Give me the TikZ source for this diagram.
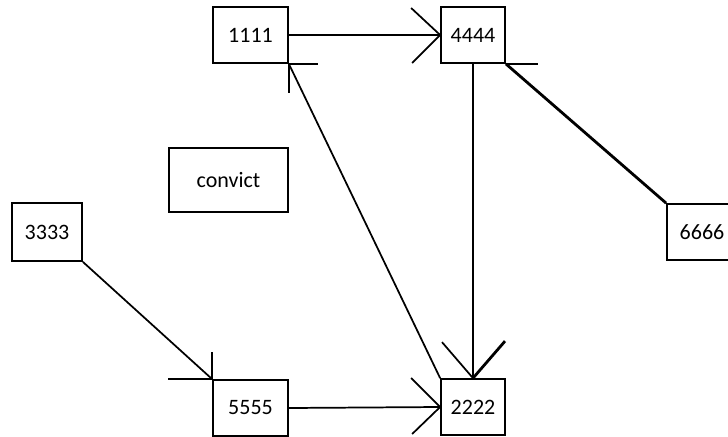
\documentclass[tikz,border=0pt]{standalone}
\usepackage{fontspec}
\setmainfont{Carlito}
\begin{document}
\begin{tikzpicture}[x=0.75pt,y=-0.75pt,
  box/.style={draw=black,line width=1.3pt,fill=white,inner sep=0pt,
    font=\fontsize{16.5}{19}\selectfont},
  link/.style={draw=black,line width=1.3pt},
  heavy/.style={draw=black,line width=2.1pt}]
\useasboundingbox (0,0) rectangle (728,436);
\clip (0,0) rectangle (728,436);

% boxes
\node[box,minimum width=75*0.75pt,minimum height=56*0.75pt] (n1111) at (250.5,35) {1111};
\node[box,minimum width=64*0.75pt,minimum height=56*0.75pt] (n4444) at (473,35) {4444};
\node[box,minimum width=119*0.75pt,minimum height=64*0.75pt] (conv) at (228.5,180) {convict};
\node[box,minimum width=70*0.75pt,minimum height=58*0.75pt] (n3333) at (47,232) {3333};
\node[box,minimum width=70*0.75pt,minimum height=56*0.75pt] (n6666) at (702,232) {6666};
\node[box,minimum width=75*0.75pt,minimum height=56*0.75pt] (n5555) at (250.5,408) {5555};
\node[box,minimum width=64*0.75pt,minimum height=56*0.75pt] (n2222) at (473,407) {2222};

% connectors
\draw[link] (n1111.east) -- (n4444.west);
\draw[link] (n4444.south) -- (n2222.north);
\draw[link] (n5555.east) -- (n2222.west);
\draw[link] (n3333.south east) -- (n5555.north west);
\draw[link] (n2222.north west) -- (n1111.south east);
\draw[heavy] (n6666.north west) -- (n4444.south east);

% open arrowheads
\draw[link] (n4444.west) -- ++(-29,-27) (n4444.west) -- ++(-28,28);
\draw[link] (n2222.west) -- ++(-29,-29) (n2222.west) -- ++(-28,27);
\draw[link] (n2222.north) -- ++(-31,-36);
\draw[heavy] (n2222.north) -- ++(32,-37);
\draw[link] (n5555.north west) -- ++(-44,0) (n5555.north west) -- ++(0,-27);
\draw[link] (n1111.south east) -- ++(29,0) (n1111.south east) -- ++(0,29);
\draw[link] (n4444.south east) -- ++(32,0);
\end{tikzpicture}
\end{document}
